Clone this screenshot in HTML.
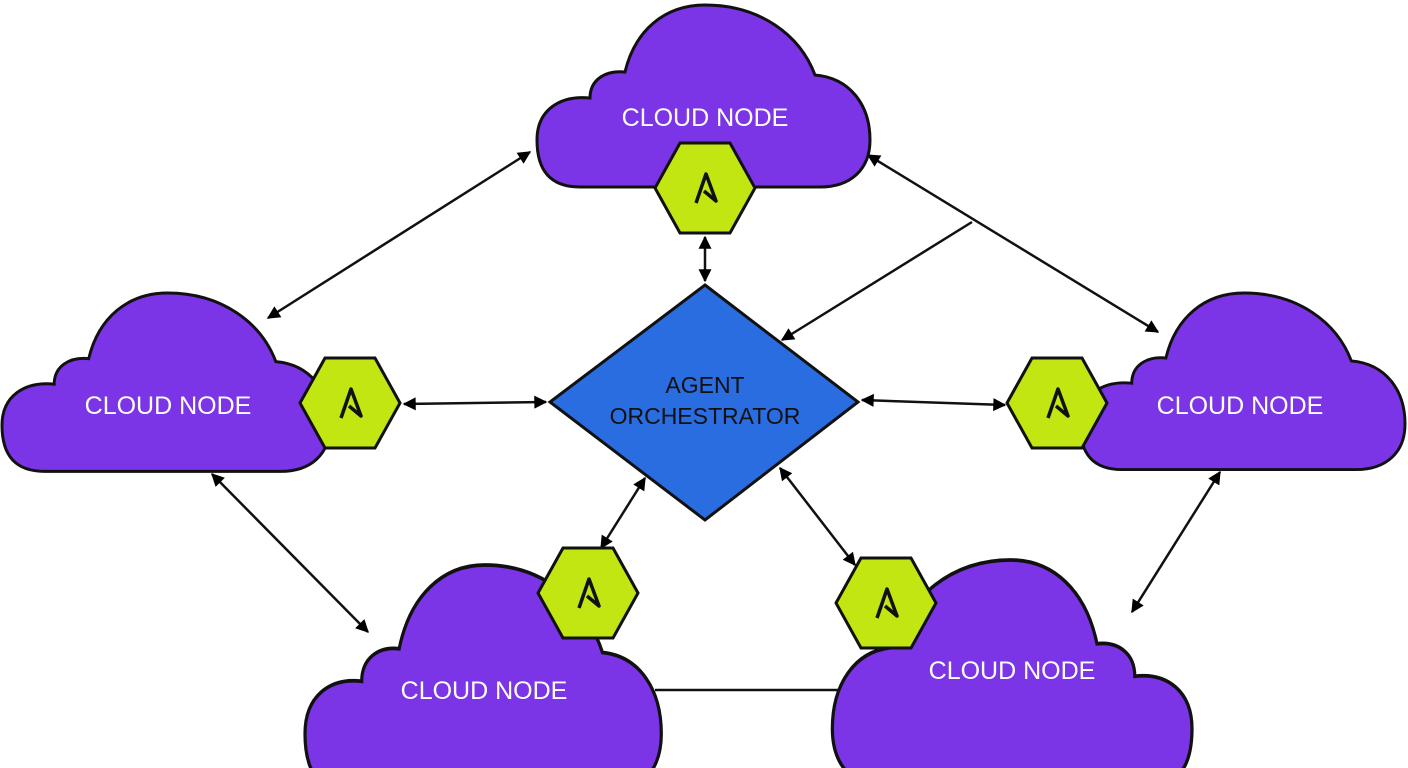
<!DOCTYPE html>
<html><head><meta charset="utf-8"><style>
html,body{margin:0;padding:0;background:#fff;}
svg{display:block;}
text{font-family:"Liberation Sans",sans-serif;}
</style></head><body>
<svg width="1408" height="768" viewBox="0 0 1408 768" xmlns="http://www.w3.org/2000/svg">
<defs>
<path id="cloud" d="M43,182 C13,182 0,165 0,135 C0,105 23,90 53,93 C53,75 68,65 88,67 C98,25 128,0 168,0 C223,0 263,30 278,70 C313,73 333,100 333,135 C333,165 313,182 283,182 Z"/>
<marker id="ah" viewBox="0 0 10 10" refX="9" refY="5" markerWidth="14" markerHeight="13" orient="auto-start-reverse" markerUnits="userSpaceOnUse">
<path d="M0,0 L10,5 L0,10 Z" fill="#000"/></marker>
<g id="hex"><polygon points="-50,0 -25,-45 25,-45 50,0 25,45 -25,45" fill="#c1e612" stroke="#111" stroke-width="3"/>
<path d="M-9,15 L1,-14 L11,13 L-1,3" fill="none" stroke="#111" stroke-width="3.5" stroke-linejoin="round"/></g>
</defs>
<g stroke="#111" stroke-width="2.5" fill="none">
<line x1="705" y1="237" x2="705" y2="281" marker-start="url(#ah)" marker-end="url(#ah)"/>
<line x1="404" y1="404" x2="546" y2="402" marker-start="url(#ah)" marker-end="url(#ah)"/>
<line x1="862" y1="400" x2="1005" y2="405" marker-start="url(#ah)" marker-end="url(#ah)"/>
<line x1="645" y1="478" x2="601" y2="548" marker-start="url(#ah)" marker-end="url(#ah)"/>
<line x1="780" y1="468" x2="855" y2="565" marker-start="url(#ah)" marker-end="url(#ah)"/>
<line x1="530" y1="152" x2="268" y2="318" marker-start="url(#ah)" marker-end="url(#ah)"/>
<line x1="868" y1="155" x2="1158" y2="332" marker-start="url(#ah)" marker-end="url(#ah)"/>
<line x1="972" y1="222" x2="782" y2="340" marker-end="url(#ah)"/>
<line x1="212" y1="474" x2="368" y2="632" marker-start="url(#ah)" marker-end="url(#ah)"/>
<line x1="1220" y1="472" x2="1132" y2="612" marker-start="url(#ah)" marker-end="url(#ah)"/>
<line x1="655" y1="690" x2="840" y2="690"/>
</g>
<g fill="#7b35e6" stroke="#111" stroke-width="3">
<use href="#cloud" transform="translate(537,5)"/>
<use href="#cloud" transform="translate(2,293) scale(0.985,0.98)"/>
<use href="#cloud" transform="translate(1080,293) scale(0.976,0.97)"/>
<use href="#cloud" transform="translate(305,565) scale(1.07,1.25)"/>
<use href="#cloud" transform="translate(1192,560) scale(-1.08,1.25)"/>
</g>
<polygon points="705,285 858,402 705,520 550,402" fill="#2a6de0" stroke="#111" stroke-width="3"/>
<use href="#hex" transform="translate(705,188)"/>
<use href="#hex" transform="translate(350,403)"/>
<use href="#hex" transform="translate(1057,403)"/>
<use href="#hex" transform="translate(588,593)"/>
<use href="#hex" transform="translate(886,603)"/>
<g fill="#fff" font-size="25" text-anchor="middle">
<text x="705" y="126">CLOUD NODE</text>
<text x="168" y="414">CLOUD NODE</text>
<text x="1240" y="414">CLOUD NODE</text>
<text x="484" y="699">CLOUD NODE</text>
<text x="1012" y="679">CLOUD NODE</text>
</g>
<g fill="#111" font-size="23" text-anchor="middle">
<text x="705" y="393">AGENT</text>
<text x="705" y="424">ORCHESTRATOR</text>
</g>
</svg>
</body></html>
